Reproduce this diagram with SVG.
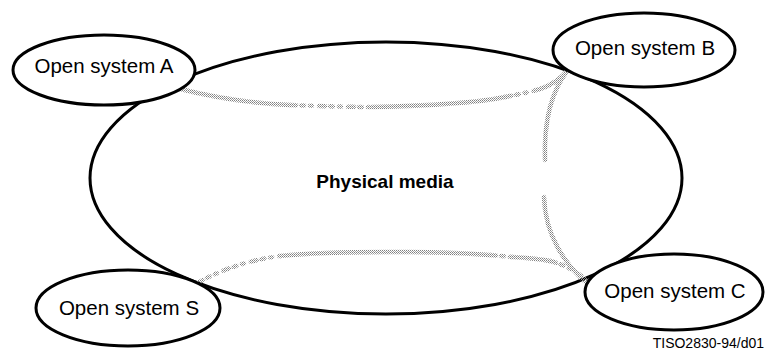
<svg xmlns="http://www.w3.org/2000/svg" width="766" height="353" viewBox="0 0 766 353">
  <defs>
    <pattern id="dither" width="2" height="2" patternUnits="userSpaceOnUse">
      <rect x="0" y="0" width="1" height="1" fill="#808080"/>
      <rect x="1" y="1" width="1" height="1" fill="#a0a0a0"/>
    </pattern>
  </defs>
  <style>
    .bg { fill: #ffffff; }
    .big { fill: #ffffff; stroke: #000000; stroke-width: 3; }
    .sys { fill: #ffffff; stroke: #000000; stroke-width: 3; }
    .lbl { font-family: "Liberation Sans", Arial, sans-serif; font-size: 20.5px; fill: #000000; text-anchor: middle; }
    .title { font-family: "Liberation Sans", Arial, sans-serif; font-size: 19px; font-weight: bold; fill: #000000; text-anchor: middle; }
    .ref { font-family: "Liberation Sans", Arial, sans-serif; font-size: 14px; fill: #000000; text-anchor: end; }
    .link { fill: none; stroke: url(#dither); stroke-width: 4.5; stroke-linecap: round; }
    .sparse { stroke-dasharray: 6 5 3 6 2 7; }
  </style>
  <rect class="bg" x="0" y="0" width="766" height="353"/>

  <g id="media">
    <ellipse class="big" cx="386" cy="178" rx="296" ry="136"/>
    <text class="title" x="385" y="188">Physical media</text>
  </g>

  <g id="connectors">
    <path class="link" d="M176,88 C220,99 260,104 290,105"/>
    <path class="link sparse" d="M290,105 C320,106 345,107 372,107"/>
    <path class="link" d="M372,107 C420,106 470,104 505,97"/>
    <path class="link sparse" d="M505,97 C520,94 530,92 540,89"/>
    <path class="link" d="M540,89 C552,85 560,80 568,70"/>
    <path class="link" d="M568,70 C548,95 544,130 545,160"/>
    <path class="link" d="M544,197 C545,235 565,265 588,284"/>
    <path class="link sparse" d="M197,283 C225,268 250,260 280,256"/>
    <path class="link" d="M280,256 C330,251 370,252 410,252 C450,252 475,254 490,255"/>
    <path class="link sparse" d="M490,255 C500,256 505,256 512,257"/>
    <path class="link" d="M512,257 C530,258 540,259 550,261"/>
    <path class="link sparse" d="M550,261 C565,265 578,272 588,282"/>
  </g>

  <g id="sysA">
    <ellipse class="sys" cx="104" cy="70" rx="91" ry="35"/>
    <text class="lbl" x="104" y="73">Open system A</text>
  </g>

  <g id="sysB">
    <ellipse class="sys" cx="644" cy="50" rx="91" ry="37"/>
    <text class="lbl" x="645" y="55">Open system B</text>
  </g>

  <g id="sysS">
    <ellipse class="sys" cx="128" cy="308" rx="92" ry="38"/>
    <text class="lbl" x="129" y="315">Open system S</text>
  </g>

  <g id="sysC">
    <ellipse class="sys" cx="674" cy="292" rx="89" ry="38"/>
    <text class="lbl" x="675" y="298">Open system C</text>
  </g>

  <g id="label">
    <text class="ref" x="764" y="348">TISO2830-94/d01</text>
  </g>
</svg>
